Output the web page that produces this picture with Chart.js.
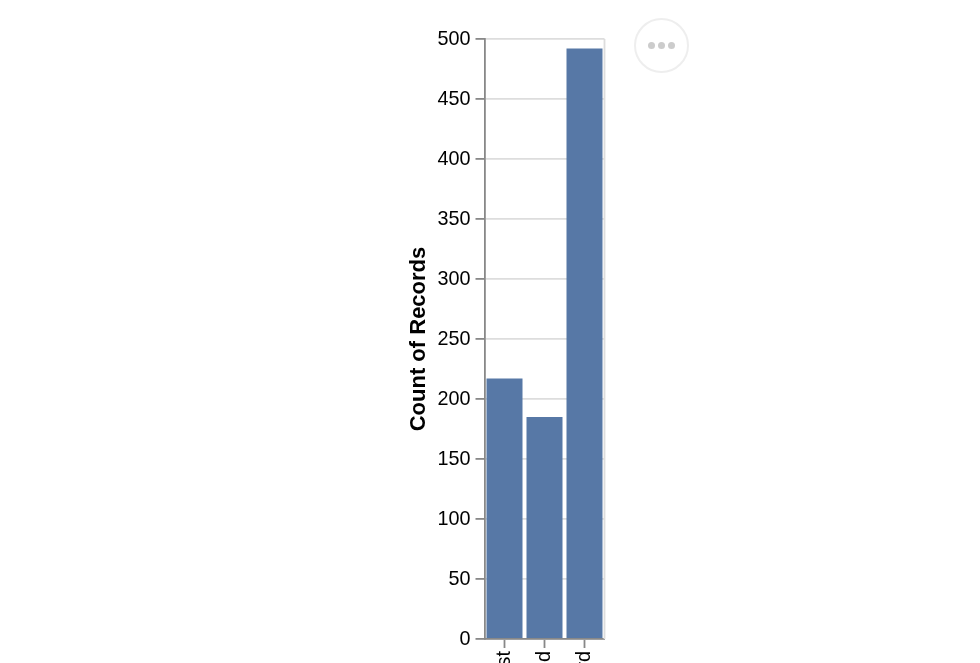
<!DOCTYPE html>
<html>
<head>
<meta charset="utf-8">
<style>
    html, body { margin: 0; padding: 0; width: 980px; height: 663px; overflow: hidden; background: #fff; }
    #chartCanvas { position: absolute; left: 0; top: 0; }
    /* the round "..." actions button next to the chart */
    #moreBtn {
        position: absolute; left: 634px; top: 18px; width: 51px; height: 51px;
        border: 2px solid #eee; border-radius: 50%; background: #fff;
        display: flex; align-items: center; justify-content: center; gap: 3px;
    }
    #moreBtn span { width: 7px; height: 7px; border-radius: 50%; background: #ccc; }
</style>
<script src="https://cdn.jsdelivr.net/npm/chart.js@4"></script>
</head>
<body>
<canvas id="chartCanvas" width="980" height="780"></canvas>
<div id="moreBtn"><span></span><span></span><span></span></div>
<script>
const categories = ['First', 'Second', 'Third'];
const counts = [217, 185, 492];
const yMin = 0;
const yMax = 500;
const yStep = 50;
const yTitle = 'Count of Records';

const font = 'Liberation Sans, Helvetica, Arial, sans-serif';
const axisGray = '#888';
const gridGray = '#ddd';

// right edge of the plot, chart.js has no option for it
const viewBorder = {
    id: 'viewBorder',
    beforeDatasetsDraw(chart) {
        const a = chart.chartArea;
        const ctx = chart.ctx;
        ctx.save();
        ctx.strokeStyle = gridGray;
        ctx.lineWidth = 1.8;
        ctx.beginPath();
        ctx.moveTo(a.right, a.top);
        ctx.lineTo(a.right, a.bottom);
        ctx.stroke();
        ctx.restore();
    }
};

const myChart = new Chart(document.getElementById('chartCanvas'), {
    type: 'bar',
    data: {
        labels: categories,
        datasets: [{
            data: counts,
            backgroundColor: '#5778a6',
            barPercentage: 0.9,
            categoryPercentage: 1
        }]
    },
    plugins: [viewBorder],
    options: {
        responsive: false,
        animation: false,
        layout: { padding: { left: 400, right: 375.5, top: 39, bottom: 0 } },
        plugins: { legend: { display: false }, tooltip: { enabled: false } },
        scales: {
            x: {
                afterFit(scale) { scale.height = 141; },
                grid: { offset: false, drawOnChartArea: false, tickColor: axisGray, tickLength: 9, tickWidth: 1.8 },
                border: { color: axisGray, width: 1.8 },
                ticks: {
                    color: '#000',
                    font: { family: font, size: 19.8 },
                    minRotation: 90,
                    maxRotation: 90,
                    padding: 3
                }
            },
            y: {
                min: yMin,
                max: yMax,
                afterFit(scale) { scale.width = 84.5; },
                grid: { color: gridGray, lineWidth: 1.8, tickColor: axisGray, tickLength: 9, tickWidth: 1.8 },
                border: { color: axisGray, width: 1.8 },
                ticks: {
                    stepSize: yStep,
                    color: '#000',
                    font: { family: font, size: 19.8 },
                    padding: 5,
                    labelOffset: 1
                },
                title: {
                    display: true,
                    text: yTitle,
                    color: '#000',
                    font: { family: font, size: 22, weight: 'bold' },
                    padding: { top: 6, bottom: 0 }
                }
            }
        }
    }
});
</script>
</body>
</html>
